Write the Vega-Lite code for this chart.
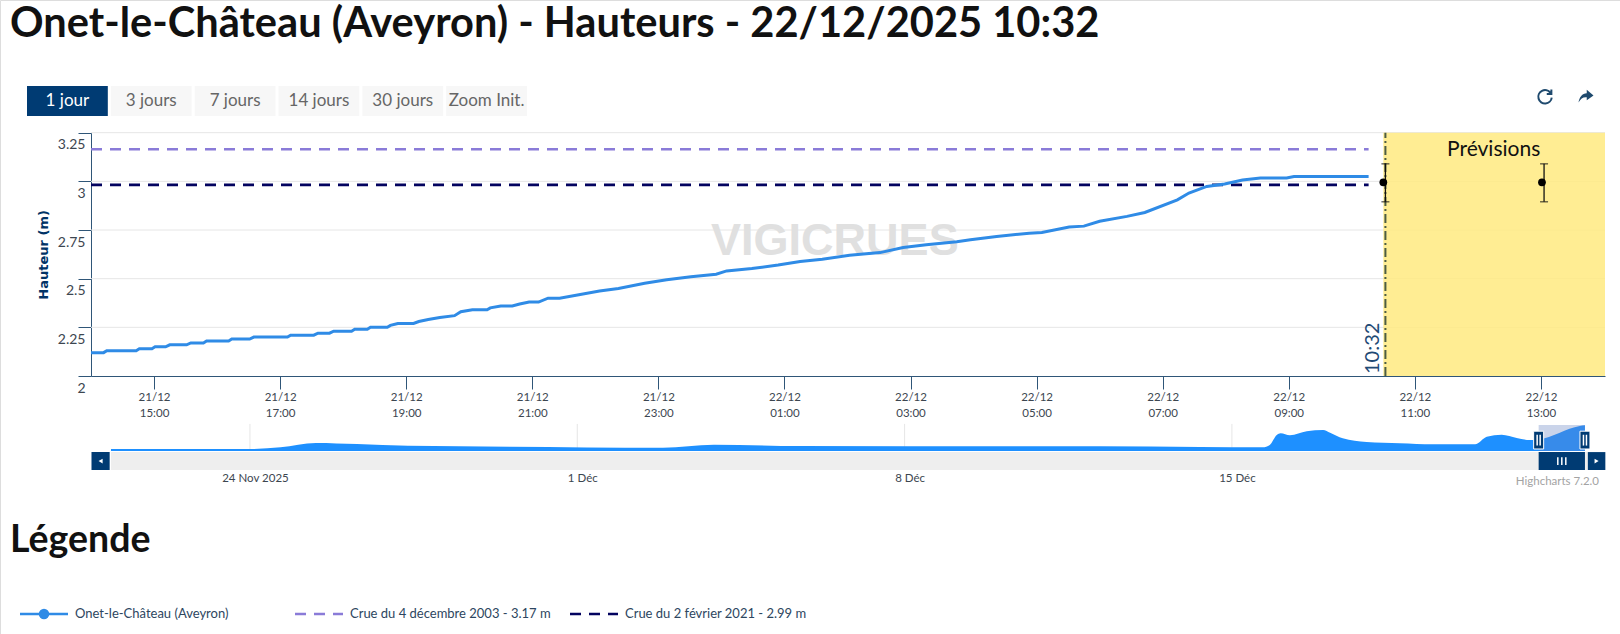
{"$schema":"https://vega.github.io/schema/vega-lite/v6.json","width":1620,"height":634,"padding":0,"autosize":{"type":"none"},"background":"#ffffff","resolve":{"scale":{"x":"independent","y":"independent","color":"independent","strokeDash":"independent"}},
"datasets":{
"grid":[{"t":"2025-12-21T14:00:00","t2":"2025-12-22T14:01:00","v":2.25},{"t":"2025-12-21T14:00:00","t2":"2025-12-22T14:01:00","v":2.5},{"t":"2025-12-21T14:00:00","t2":"2025-12-22T14:01:00","v":2.75},{"t":"2025-12-21T14:00:00","t2":"2025-12-22T14:01:00","v":3},{"t":"2025-12-21T14:00:00","t2":"2025-12-22T14:01:00","v":3.25}],
"hauteurs":[{"t":"2025-12-21T14:00:00","v":2.12},{"t":"2025-12-21T14:12:00","v":2.12},{"t":"2025-12-21T14:15:00","v":2.13},{"t":"2025-12-21T14:43:00","v":2.13},{"t":"2025-12-21T14:46:00","v":2.14},{"t":"2025-12-21T14:58:00","v":2.14},{"t":"2025-12-21T15:01:00","v":2.15},{"t":"2025-12-21T15:11:00","v":2.15},{"t":"2025-12-21T15:15:00","v":2.16},{"t":"2025-12-21T15:31:00","v":2.16},{"t":"2025-12-21T15:35:00","v":2.17},{"t":"2025-12-21T15:47:00","v":2.17},{"t":"2025-12-21T15:50:00","v":2.18},{"t":"2025-12-21T16:11:00","v":2.18},{"t":"2025-12-21T16:14:00","v":2.19},{"t":"2025-12-21T16:31:00","v":2.19},{"t":"2025-12-21T16:35:00","v":2.2},{"t":"2025-12-21T17:07:00","v":2.2},{"t":"2025-12-21T17:10:00","v":2.21},{"t":"2025-12-21T17:32:00","v":2.21},{"t":"2025-12-21T17:36:00","v":2.22},{"t":"2025-12-21T17:47:00","v":2.22},{"t":"2025-12-21T17:51:00","v":2.23},{"t":"2025-12-21T18:08:00","v":2.23},{"t":"2025-12-21T18:11:00","v":2.24},{"t":"2025-12-21T18:23:00","v":2.24},{"t":"2025-12-21T18:26:00","v":2.25},{"t":"2025-12-21T18:42:00","v":2.25},{"t":"2025-12-21T18:45:00","v":2.26},{"t":"2025-12-21T18:52:00","v":2.27},{"t":"2025-12-21T19:07:00","v":2.27},{"t":"2025-12-21T19:12:00","v":2.28},{"t":"2025-12-21T19:21:00","v":2.29},{"t":"2025-12-21T19:32:00","v":2.3},{"t":"2025-12-21T19:46:00","v":2.31},{"t":"2025-12-21T19:52:00","v":2.33},{"t":"2025-12-21T20:03:00","v":2.34},{"t":"2025-12-21T20:17:00","v":2.34},{"t":"2025-12-21T20:20:00","v":2.35},{"t":"2025-12-21T20:30:00","v":2.36},{"t":"2025-12-21T20:41:00","v":2.36},{"t":"2025-12-21T20:48:00","v":2.37},{"t":"2025-12-21T20:57:00","v":2.38},{"t":"2025-12-21T21:06:00","v":2.38},{"t":"2025-12-21T21:15:00","v":2.4},{"t":"2025-12-21T21:26:00","v":2.4},{"t":"2025-12-21T22:04:00","v":2.437},{"t":"2025-12-21T22:22:00","v":2.45},{"t":"2025-12-21T22:47:00","v":2.477},{"t":"2025-12-21T23:08:00","v":2.494},{"t":"2025-12-21T23:31:00","v":2.51},{"t":"2025-12-21T23:55:00","v":2.523},{"t":"2025-12-22T00:05:00","v":2.54},{"t":"2025-12-22T00:29:00","v":2.552},{"t":"2025-12-22T00:54:00","v":2.57},{"t":"2025-12-22T01:15:00","v":2.588},{"t":"2025-12-22T01:36:00","v":2.6},{"t":"2025-12-22T02:02:00","v":2.62},{"t":"2025-12-22T02:31:00","v":2.634},{"t":"2025-12-22T02:53:00","v":2.66},{"t":"2025-12-22T03:15:00","v":2.674},{"t":"2025-12-22T03:44:00","v":2.69},{"t":"2025-12-22T03:57:00","v":2.7},{"t":"2025-12-22T04:22:00","v":2.717},{"t":"2025-12-22T04:53:00","v":2.734},{"t":"2025-12-22T05:05:00","v":2.737},{"t":"2025-12-22T05:31:00","v":2.765},{"t":"2025-12-22T05:45:00","v":2.77},{"t":"2025-12-22T06:00:00","v":2.795},{"t":"2025-12-22T06:26:00","v":2.82},{"t":"2025-12-22T06:43:00","v":2.84},{"t":"2025-12-22T07:14:00","v":2.905},{"t":"2025-12-22T07:25:00","v":2.94},{"t":"2025-12-22T07:42:00","v":2.974},{"t":"2025-12-22T07:59:00","v":2.986},{"t":"2025-12-22T08:16:00","v":3.007},{"t":"2025-12-22T08:33:00","v":3.017},{"t":"2025-12-22T08:58:00","v":3.017},{"t":"2025-12-22T09:05:00","v":3.025},{"t":"2025-12-22T10:16:00","v":3.025}],
"apercu":[{"t":"2025-11-21T00:40:00","v":1.48},{"t":"2025-11-24T00:00:00","v":1.48},{"t":"2025-11-24T15:42:00","v":1.59},{"t":"2025-11-25T09:52:00","v":1.87},{"t":"2025-11-26T06:55:00","v":1.8},{"t":"2025-11-27T09:06:00","v":1.69},{"t":"2025-11-29T13:26:00","v":1.63},{"t":"2025-12-02T19:58:00","v":1.56},{"t":"2025-12-03T22:09:00","v":1.76},{"t":"2025-12-05T18:14:00","v":1.67},{"t":"2025-12-12T04:19:00","v":1.65},{"t":"2025-12-14T07:40:00","v":1.61},{"t":"2025-12-15T15:50:00","v":1.59},{"t":"2025-12-15T19:26:00","v":1.74},{"t":"2025-12-15T23:02:00","v":2.38},{"t":"2025-12-16T00:58:00","v":2.49},{"t":"2025-12-16T05:46:00","v":2.36},{"t":"2025-12-16T14:24:00","v":2.62},{"t":"2025-12-16T22:48:00","v":2.71},{"t":"2025-12-17T02:24:00","v":2.53},{"t":"2025-12-17T08:53:00","v":2.17},{"t":"2025-12-17T21:07:00","v":1.93},{"t":"2025-12-18T14:10:00","v":1.85},{"t":"2025-12-19T07:12:00","v":1.78},{"t":"2025-12-20T04:48:00","v":1.78},{"t":"2025-12-20T10:48:00","v":2.27},{"t":"2025-12-20T18:29:00","v":2.4},{"t":"2025-12-21T02:10:00","v":2.19},{"t":"2025-12-21T08:53:00","v":2.06},{"t":"2025-12-21T13:26:00","v":2.1},{"t":"2025-12-22T10:34:00","v":2.965},{"t":"2025-12-22T13:12:00","v":3.01}],
"boutons":[{"label":"1 jour"},{"label":"3 jours"},{"label":"7 jours"},{"label":"14 jours"},{"label":"30 jours"},{"label":"Zoom Init."}],
"legende":[{"label":"Onet-le-Château (Aveyron)"},{"label":"Crue du 4 décembre 2003 - 3.17 m"},{"label":"Crue du 2 février 2021 - 2.99 m"}]
},
"layer":[
{"encoding":{
"x":{"field":"t","type":"temporal","scale":{"type":"time","domain":[{"year":2025,"month":12,"date":21,"hours":14},{"year":2025,"month":12,"date":22,"hours":14,"minutes":1}],"range":[91,1605],"padding":0},
"axis":{"orient":"bottom","offset":-258,"title":null,"grid":false,"values":[{"year":2025,"month":12,"date":21,"hours":15},{"year":2025,"month":12,"date":21,"hours":17},{"year":2025,"month":12,"date":21,"hours":19},{"year":2025,"month":12,"date":21,"hours":21},{"year":2025,"month":12,"date":21,"hours":23},{"year":2025,"month":12,"date":22,"hours":1},{"year":2025,"month":12,"date":22,"hours":3},{"year":2025,"month":12,"date":22,"hours":5},{"year":2025,"month":12,"date":22,"hours":7},{"year":2025,"month":12,"date":22,"hours":9},{"year":2025,"month":12,"date":22,"hours":11},{"year":2025,"month":12,"date":22,"hours":13}],"labelExpr":"[timeFormat(datum.value,'%d/%m'),timeFormat(datum.value,'%H:%M')]","labelFont":"Lato","labelFontSize":11.5,"labelColor":"#3c4650","labelPadding":2,"labelLineHeight":16,"labelOverlap":false,"tickSize":13,"tickColor":"#2f5678","domainColor":"#2f5678","tickWidth":1,"domainWidth":1}},
"y":{"field":"v","type":"quantitative","scale":{"domain":[2,3.25],"range":[376,132.7],"zero":false,"nice":false},
"axis":{"orient":"left","offset":-91,"title":"Hauteur (m)","titleFont":"DejaVu Sans","titleFontSize":13,"titleFontWeight":"bold","titleColor":"#003366","titlePadding":7,"grid":false,"values":[2,2.25,2.5,2.75,3,3.25],"labelExpr":"datum.value+''","labelFont":"Lato","labelFontSize":14,"labelColor":"#3c4650","labelOffset":12,"labelPadding":-7,"labelOverlap":false,"labelBound":false,"labelFlush":false,"tickSize":13,"tickColor":"#2f5678","domainColor":"#2f5678","domainWidth":1}}
},
"layer":[
{"data":{"name":"grid"},"mark":{"type":"rule","stroke":"#e6e6e6","strokeWidth":1},"encoding":{"x2":{"field":"t2"}}},
{"data":{"values":[{"t":"2025-12-22T01:48:00","v":2.693,"label":"VIGICRUES"}]},"mark":{"type":"text","font":"Liberation Sans","fontWeight":"bold","fontSize":45,"fill":"#e0e0e0","baseline":"middle","align":"center"},"encoding":{"text":{"field":"label"}}},
{"data":{"values":[{"t":"2025-12-22T10:30:00","t2":"2025-12-22T14:01:00","v":2,"v2":3.25}]},"mark":{"type":"rect","fill":"#ffea80","opacity":0.85},"encoding":{"x2":{"field":"t2"},"y2":{"field":"v2"}}},
{"data":{"values":[{"t":"2025-12-21T14:00:00","t2":"2025-12-22T10:16:00","v":3.165}]},"mark":{"type":"rule","stroke":"#8a7bd8","strokeWidth":2.7,"strokeDash":[11,8]},"encoding":{"x2":{"field":"t2"}}},
{"data":{"values":[{"t":"2025-12-21T14:00:00","t2":"2025-12-22T10:16:00","v":2.982}]},"mark":{"type":"rule","stroke":"#03035f","strokeWidth":2.7,"strokeDash":[11,8]},"encoding":{"x2":{"field":"t2"}}},
{"data":{"name":"hauteurs"},"mark":{"type":"line","stroke":"#2f8be6","strokeWidth":3,"interpolate":"linear"}},
{"data":{"values":[{"t":"2025-12-22T10:32:00","v":2,"v2":3.25}]},"mark":{"type":"rule","stroke":"#4c5d45","strokeWidth":2,"strokeDash":[9,3,2,3]},"encoding":{"y2":{"field":"v2"}}},
{"data":{"values":[{"t":"2025-12-22T10:20:00","v":2.01,"label":"10:32"}]},"mark":{"type":"text","font":"Lato","fontSize":20,"fill":"#1f4a75","angle":270,"align":"left","baseline":"middle"},"encoding":{"text":{"field":"label"}}},
{"data":{"values":[{"t":"2025-12-22T10:32:00","v":3.09,"v2":2.895},{"t":"2025-12-22T13:03:00","v":3.09,"v2":2.895}]},"mark":{"type":"rule","stroke":"#111111","strokeWidth":1.3},"encoding":{"y2":{"field":"v2"}}},
{"data":{"values":[{"t":"2025-12-22T10:32:00","v":3.09},{"t":"2025-12-22T10:32:00","v":2.895},{"t":"2025-12-22T13:03:00","v":3.09},{"t":"2025-12-22T13:03:00","v":2.895}]},"mark":{"type":"tick","orient":"horizontal","color":"#111111","size":8,"thickness":1.3}},
{"data":{"values":[{"t":"2025-12-22T10:30:00","v":2.995},{"t":"2025-12-22T13:01:00","v":2.995}]},"mark":{"type":"point","filled":true,"fill":"#000000","opacity":1,"size":60}},
{"data":{"values":[{"t":"2025-12-22T12:15:00","v":3.16,"label":"Prévisions"}]},"mark":{"type":"text","font":"Lato","fontSize":21,"fill":"#111111","align":"center","baseline":"middle"},"encoding":{"text":{"field":"label"}}}
]},
{"encoding":{
"x":{"field":"t","type":"temporal","scale":{"type":"time","domain":[{"year":2025,"month":11,"date":20,"hours":12},{"year":2025,"month":12,"date":23}],"range":[86.3,1606],"padding":0},
"axis":{"orient":"bottom","offset":-164,"title":null,"grid":false,"domain":false,"ticks":false,"values":[{"year":2025,"month":11,"date":24},{"year":2025,"month":12,"date":1},{"year":2025,"month":12,"date":8},{"year":2025,"month":12,"date":15}],"labelExpr":"date(datum.value)==24?'24 Nov 2025':date(datum.value)+' Déc'","labelFont":"Lato","labelFontSize":11.5,"labelColor":"#3c4650","labelOffset":5,"labelPadding":2,"labelOverlap":false}},
"y":{"field":"v","type":"quantitative","scale":{"domain":[0.122,3.353],"range":[470,420],"zero":false,"nice":false},"axis":null}
},
"layer":[
{"data":{"values":[{"t":"2025-11-21T00:40:00","t2":"2025-12-22T14:30:00","v":1.28,"v2":0.122}]},"mark":{"type":"rect","fill":"#eeeeee"},"encoding":{"x2":{"field":"t2"},"y2":{"field":"v2"}}},
{"data":{"values":[{"t":"2025-11-24T00:00:00","v":1.35,"v2":3.1},{"t":"2025-12-01T00:00:00","v":1.35,"v2":3.1},{"t":"2025-12-08T00:00:00","v":1.35,"v2":3.1},{"t":"2025-12-15T00:00:00","v":1.35,"v2":3.1}]},"mark":{"type":"rule","stroke":"#e6e6e6","strokeWidth":1},"encoding":{"y2":{"field":"v2"}}},
{"data":{"name":"apercu"},"mark":{"type":"area","fill":"#1e90ff","line":false,"interpolate":"monotone"},"encoding":{"y2":{"datum":1.35}}},
{"data":{"values":[{"t":"2025-12-21T13:26:00","t2":"2025-12-22T13:12:00","v":1.35,"v2":3.03}]},"mark":{"type":"rect","fill":"#6685c2","opacity":0.35},"encoding":{"x2":{"field":"t2"},"y2":{"field":"v2"}}},
{"data":{"values":[{"t":"2025-11-20T14:40:00","t2":"2025-11-21T00:00:00","v":1.28,"v2":0.122},{"t":"2025-12-22T14:40:00","t2":"2025-12-22T23:40:00","v":1.28,"v2":0.122},{"t":"2025-12-21T13:26:00","t2":"2025-12-22T13:12:00","v":1.28,"v2":0.122}]},"mark":{"type":"rect","fill":"#003b73"},"encoding":{"x2":{"field":"t2"},"y2":{"field":"v2"}}},
{"data":{"values":[{"t":"2025-12-21T13:26:00","v":2.63,"v2":1.48},{"t":"2025-12-22T13:12:00","v":2.63,"v2":1.48}]},"mark":{"type":"bar","fill":"#003b73","stroke":"#ffffff","strokeWidth":1,"width":10},"encoding":{"y2":{"field":"v2"}}},
{"data":{"values":[{"t":"2025-12-21T13:26:00","v":2.4,"v2":1.7},{"t":"2025-12-22T13:12:00","v":2.4,"v2":1.7}]},"mark":{"type":"rule","stroke":"#ffffff","strokeWidth":1.5,"xOffset":-1.5},"encoding":{"y2":{"field":"v2"}}},
{"data":{"values":[{"t":"2025-12-21T13:26:00","v":2.4,"v2":1.7},{"t":"2025-12-22T13:12:00","v":2.4,"v2":1.7}]},"mark":{"type":"rule","stroke":"#ffffff","strokeWidth":1.5,"xOffset":1.5},"encoding":{"y2":{"field":"v2"}}},
{"data":{"values":[{"t":"2025-12-22T01:19:00","v":0.95,"v2":0.45}]},"mark":{"type":"rule","stroke":"#ffffff","strokeWidth":1.5,"xOffset":-4},"encoding":{"y2":{"field":"v2"}}},
{"data":{"values":[{"t":"2025-12-22T01:19:00","v":0.95,"v2":0.45}]},"mark":{"type":"rule","stroke":"#ffffff","strokeWidth":1.5},"encoding":{"y2":{"field":"v2"}}},
{"data":{"values":[{"t":"2025-12-22T01:19:00","v":0.95,"v2":0.45}]},"mark":{"type":"rule","stroke":"#ffffff","strokeWidth":1.5,"xOffset":4},"encoding":{"y2":{"field":"v2"}}},
{"data":{"values":[{"t":"2025-11-20T19:20:00","v":0.7}]},"mark":{"type":"point","shape":"triangle-left","filled":true,"fill":"#ffffff","opacity":1,"size":22}},
{"data":{"values":[{"t":"2025-12-22T19:10:00","v":0.7}]},"mark":{"type":"point","shape":"triangle-right","filled":true,"fill":"#ffffff","opacity":1,"size":22}},
{"data":{"values":[{"t":"2025-12-22T20:24:00","v":-0.63,"label":"Highcharts 7.2.0"}]},"mark":{"type":"text","font":"Lato","fontSize":11.5,"fill":"#a3a3a3","align":"right","baseline":"middle"},"encoding":{"text":{"field":"label"}}}
]},
{"data":{"name":"boutons"},"encoding":{
"x":{"field":"label","type":"nominal","sort":null,"scale":{"type":"band","domain":["1 jour","3 jours","7 jours","14 jours","30 jours","Zoom Init."],"range":[27,527],"paddingInner":0.036,"paddingOuter":0},"axis":null},
"y":{"datum":"boutons","type":"nominal","scale":{"type":"band","domain":["boutons"],"range":[86,116],"padding":0},"axis":null}
},
"layer":[
{"mark":{"type":"rect"},"encoding":{"color":{"condition":{"test":"datum.label==='1 jour'","value":"#003b73"},"value":"#f7f7f7"}}},
{"mark":{"type":"text","font":"Lato","fontSize":17,"align":"center","baseline":"middle"},"encoding":{"text":{"field":"label"},"color":{"condition":{"test":"datum.label==='1 jour'","value":"#ffffff"},"value":"#666666"}}}
]},
{"data":{"values":[{"label":"Onet-le-Château (Aveyron) - Hauteurs - 22/12/2025 10:32"}]},"mark":{"type":"text","font":"Lato","fontWeight":"bold","fontSize":41.6,"fill":"#111111","align":"left","baseline":"middle"},"encoding":{"x":{"field":"label","type":"nominal","scale":{"type":"point","range":[10,10]},"axis":null},"y":{"field":"label","type":"nominal","scale":{"type":"point","range":[25,25]},"axis":null},"text":{"field":"label"}}},
{"data":{"values":[{"label":"Légende"}]},"mark":{"type":"text","font":"Lato","fontWeight":"bold","fontSize":37.5,"fill":"#111111","align":"left","baseline":"middle"},"encoding":{"x":{"field":"label","type":"nominal","scale":{"type":"point","range":[10,10]},"axis":null},"y":{"field":"label","type":"nominal","scale":{"type":"point","range":[541,541]},"axis":null},"text":{"field":"label"}}},
{"data":{"values":[{"icone":"actualiser"}]},"mark":{"type":"point","shape":"M0.75,-0.55A0.95,0.95,0,1,0,0.95,0.15M0.9,-1L0.9,-0.35L0.25,-0.35","filled":false,"stroke":"#1f4a6e","strokeWidth":2,"opacity":1,"size":200},"encoding":{"x":{"field":"icone","type":"nominal","scale":{"type":"point","range":[1545,1545]},"axis":null},"y":{"field":"icone","type":"nominal","scale":{"type":"point","range":[96.5,96.5]},"axis":null}}},
{"data":{"values":[{"icone":"partager"}]},"mark":{"type":"point","shape":"M0.1,-0.9L1,-0.15L0.1,0.5L0.1,0.1C-0.4,0.05,-0.7,0.3,-1,0.8C-0.9,0.1,-0.5,-0.45,0.1,-0.45Z","filled":true,"fill":"#1f4a6e","opacity":1,"size":225},"encoding":{"x":{"field":"icone","type":"nominal","scale":{"type":"point","range":[1586,1586]},"axis":null},"y":{"field":"icone","type":"nominal","scale":{"type":"point","range":[96.5,96.5]},"axis":null}}},
{"data":{"name":"legende"},"encoding":{
"x":{"field":"label","type":"nominal","sort":null,"scale":{"type":"point","domain":["Onet-le-Château (Aveyron)","Crue du 4 décembre 2003 - 3.17 m","Crue du 2 février 2021 - 2.99 m"],"range":[44,594],"padding":0},"axis":null},
"y":{"datum":"legende","type":"nominal","scale":{"type":"point","domain":["legende"],"range":[614,614]},"axis":null}
},
"layer":[
{"mark":{"type":"rule","strokeWidth":2.5,"xOffset":-24,"x2Offset":24},"encoding":{"x2":{"field":"label"},"color":{"field":"label","type":"nominal","scale":{"domain":["Onet-le-Château (Aveyron)","Crue du 4 décembre 2003 - 3.17 m","Crue du 2 février 2021 - 2.99 m"],"range":["#2f8be6","#8a7bd8","#03035f"]},"legend":null},"strokeDash":{"field":"label","type":"nominal","scale":{"domain":["Onet-le-Château (Aveyron)","Crue du 4 décembre 2003 - 3.17 m","Crue du 2 février 2021 - 2.99 m"],"range":[[1,0],[11,8],[11,8]]},"legend":null}}},
{"transform":[{"filter":"datum.label==='Onet-le-Château (Aveyron)'"}],"mark":{"type":"point","filled":true,"fill":"#2f8be6","opacity":1,"size":110}},
{"mark":{"type":"text","font":"Lato","fontSize":13,"fill":"#2d4660","align":"left","baseline":"middle","dx":31},"encoding":{"text":{"field":"label"}}}
]}
]}
